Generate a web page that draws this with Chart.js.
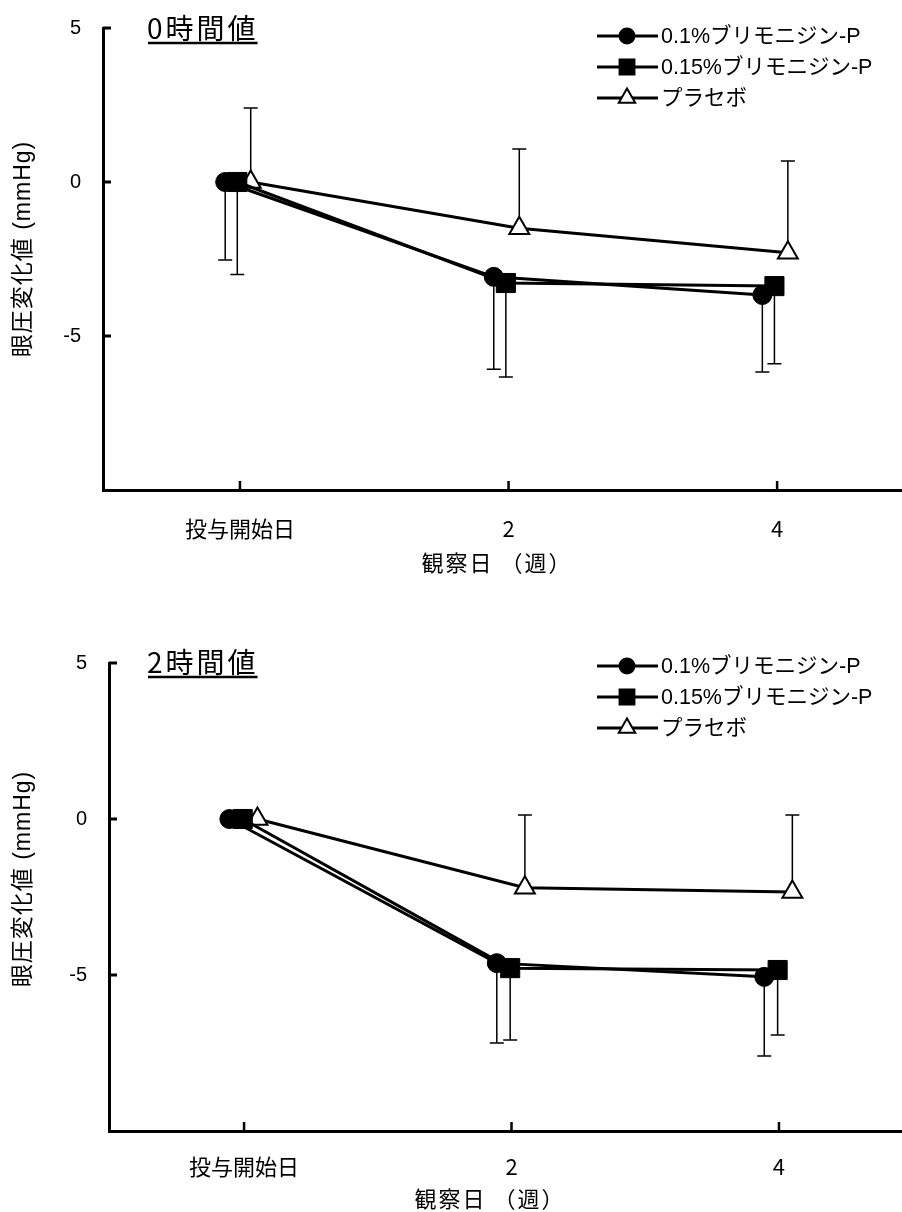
<!DOCTYPE html>
<html>
<head>
<meta charset="utf-8">
<script src="https://cdn.jsdelivr.net/npm/chart.js@4.4.1/dist/chart.umd.min.js"></script>
<style>
  html, body { margin: 0; background: #fff; overflow: hidden; }
  canvas { position: absolute; left: 0; }
</style>
</head>
<body>
<canvas id="chart0h" width="902" height="606" style="top:0"></canvas>
<canvas id="chart2h" width="902" height="606" style="top:606px"></canvas>
<script>
// weeks of observation and their axis labels
const weeks = [0, 2, 4];
const weekLabels = ['投与開始日', '2', '4'];
const yTicks = [-5, 0, 5];
const seriesNames = ['0.1%ブリモニジン-P', '0.15%ブリモニジン-P', 'プラセボ'];

// IOP change, 0 h after dosing (mean, SD)
const mean0h_01 = [0, -3.08, -3.67];
const sd0h_01 = [2.53, 3.0, 2.5];
const mean0h_015 = [0, -3.28, -3.38];
const sd0h_015 = [3.0, 3.05, 2.52];
const mean0h_pl = [0, -1.5, -2.3];
const sd0h_pl = [2.4, 2.57, 2.98];

// IOP change, 2 h after dosing (mean, SD)
const mean2h_01 = [0, -4.62, -5.06];
const sd2h_01 = [0, 2.56, 2.54];
const mean2h_015 = [0, -4.78, -4.84];
const sd2h_015 = [0, 2.3, 2.08];
const mean2h_pl = [0, -2.2, -2.34];
const sd2h_pl = [0, 2.33, 2.47];

// marker look per series; side = which way the SD bar points
const seriesStyle = [
  { pointStyle: 'circle', radius: 9.5, legendRadius: 7.5, fill: '#000', side: -1 },
  { pointStyle: 'rect', radius: 13.5, legendRadius: 10.5, fill: '#000', side: -1 },
  { pointStyle: 'triangle', radius: 11.5, legendRadius: 9.5, fill: '#fff', side: 1 }
];

const CJK = "'Noto Sans CJK JP'";
const LATIN_CJK = "'Liberation Sans', 'Noto Sans CJK JP'";

function marker(ctx, style, r, x, y) {
  ctx.beginPath();
  if (style === 'circle') {
    ctx.arc(x, y, r, 0, Math.PI * 2);
  } else if (style === 'rect') {
    const s = r * Math.SQRT1_2;
    ctx.rect(x - s, y - s, 2 * s, 2 * s);
  } else {
    ctx.moveTo(x, y - r);
    ctx.lineTo(x + r * 0.866, y + r * 0.5);
    ctx.lineTo(x - r * 0.866, y + r * 0.5);
    ctx.closePath();
  }
}

const decor = {
  id: 'decor',
  beforeDatasetsDraw(chart) {
    // one-sided SD bars
    const { ctx } = chart;
    const ys = chart.scales.y;
    ctx.save();
    ctx.strokeStyle = '#000';
    ctx.lineWidth = 1.5;
    chart.data.datasets.forEach((ds, i) => {
      chart.getDatasetMeta(i).data.forEach((pt, j) => {
        const sd = ds.sd[j];
        if (!sd) return;
        const yEnd = ys.getPixelForValue(ds.data[j].y + seriesStyle[i].side * sd);
        ctx.beginPath();
        ctx.moveTo(pt.x, pt.y);
        ctx.lineTo(pt.x, yEnd);
        ctx.moveTo(pt.x - 7, yEnd);
        ctx.lineTo(pt.x + 7, yEnd);
        ctx.stroke();
      });
    });
    ctx.restore();
  },
  afterDraw(chart, args, o) {
    const { ctx, chartArea } = chart;
    const xs = chart.scales.x, ys = chart.scales.y;
    ctx.save();
    ctx.strokeStyle = '#000';
    ctx.fillStyle = '#000';

    // inward tick marks
    ctx.lineWidth = 3;
    yTicks.forEach(v => {
      const py = ys.getPixelForValue(v);
      ctx.beginPath();
      ctx.moveTo(chartArea.left, py);
      ctx.lineTo(chartArea.left + 8, py);
      ctx.stroke();
    });
    ctx.lineWidth = 2.5;
    weeks.forEach(w => {
      const px = xs.getPixelForValue(w);
      ctx.beginPath();
      ctx.moveTo(px, chartArea.bottom);
      ctx.lineTo(px, chartArea.bottom - 9);
      ctx.stroke();
    });

    // legend
    seriesNames.forEach((name, i) => {
      const y = o.legendY[i];
      const st = seriesStyle[i];
      ctx.lineWidth = 3;
      ctx.beginPath();
      ctx.moveTo(597, y);
      ctx.lineTo(658, y);
      ctx.stroke();
      marker(ctx, st.pointStyle, st.legendRadius, 627, y);
      ctx.fillStyle = st.fill;
      ctx.fill();
      ctx.lineWidth = 2;
      ctx.stroke();
      ctx.fillStyle = '#000';
      ctx.font = '21.5px ' + LATIN_CJK;
      ctx.textAlign = 'left';
      ctx.textBaseline = 'middle';
      ctx.fillText(name, 661, y + 1);
    });

    // underlined panel title
    ctx.font = '28px ' + CJK;
    ctx.letterSpacing = '3px';
    ctx.textAlign = 'left';
    ctx.textBaseline = 'alphabetic';
    ctx.fillText(o.title, 147, o.titleY);
    const w = ctx.measureText(o.title).width - 2;
    ctx.lineWidth = 2.5;
    ctx.beginPath();
    ctx.moveTo(148, o.titleY + 4);
    ctx.lineTo(148 + w, o.titleY + 4);
    ctx.stroke();

    // axis titles
    ctx.letterSpacing = '1px';
    ctx.font = '23px ' + LATIN_CJK;
    ctx.textAlign = 'center';
    ctx.textBaseline = 'middle';
    ctx.save();
    ctx.translate(24, o.yTitleY);
    ctx.rotate(-Math.PI / 2);
    ctx.fillText('眼圧変化値 (mmHg)', 0, 0);
    ctx.restore();
    ctx.letterSpacing = '2px';
    ctx.font = '22px ' + CJK;
    ctx.fillText('観察日 （週）', o.xTitleX, o.xTitleY);
    ctx.restore();
  }
};

function makeChart(canvasId, p) {
  const datasets = seriesNames.map((name, i) => ({
    label: name,
    data: weeks.map((w, j) => ({ x: w + p.dodge[i], y: p.means[i][j] })),
    sd: p.sds[i],
    borderColor: '#000',
    borderWidth: 3,
    pointStyle: seriesStyle[i].pointStyle,
    pointRadius: seriesStyle[i].radius,
    pointBackgroundColor: seriesStyle[i].fill,
    pointBorderColor: '#000',
    pointBorderWidth: seriesStyle[i].fill === '#fff' ? 2 : 1,
    tension: 0,
    fill: false
  }));

  return new Chart(document.getElementById(canvasId), {
    type: 'line',
    data: { datasets },
    plugins: [decor],
    options: {
      responsive: false,
      animation: false,
      // no automatic room for marker overflow: the x axis runs to the page edge
      layout: { autoPadding: false, padding: { left: 0, right: 0, top: p.top, bottom: 0 } },
      plugins: {
        legend: { display: false },
        tooltip: { enabled: false },
        decor: p.decor
      },
      scales: {
        x: {
          type: 'linear',
          min: p.xMin,
          max: p.xMax,
          afterBuildTicks: s => { s.ticks = weeks.map(v => ({ value: v })); },
          afterFit: s => {
            s.height = 606 - p.bottom;
            s.paddingLeft = 0;
            s.paddingRight = 0;
          },
          grid: { display: false, drawTicks: false },
          border: { display: true, color: '#000', width: 3 },
          ticks: {
            padding: p.xPad,
            maxRotation: 0,
            autoSkip: false,
            color: '#000',
            font: { family: CJK, size: 22 },
            callback: v => weekLabels[weeks.indexOf(v)]
          }
        },
        y: {
          min: -10,
          max: 5,
          afterBuildTicks: s => { s.ticks = yTicks.map(v => ({ value: v })); },
          afterFit: s => {
            s.width = p.left;
            s.paddingTop = 0;
            s.paddingBottom = 0;
          },
          grid: { display: false, drawTicks: false },
          border: { display: true, color: '#000', width: 3 },
          ticks: {
            padding: 22,
            color: '#000',
            font: { family: "'Liberation Sans'", size: 20 }
          }
        }
      }
    }
  });
}

makeChart('chart0h', {
  means: [mean0h_01, mean0h_015, mean0h_pl],
  sds: [sd0h_01, sd0h_015, sd0h_pl],
  dodge: [-0.11, -0.02, 0.08],
  left: 103, top: 28, bottom: 490,
  xMin: -1.02, xMax: 4.93, xPad: 25,
  decor: { title: '0時間値', titleY: 39, legendY: [36, 67, 98], yTitleY: 249, xTitleX: 497, xTitleY: 563 }
});

makeChart('chart2h', {
  means: [mean2h_01, mean2h_015, mean2h_pl],
  sds: [sd2h_01, sd2h_015, sd2h_pl],
  dodge: [-0.11, -0.01, 0.1],
  left: 109, top: 57, bottom: 525,
  xMin: -1.01, xMax: 4.92, xPad: 22,
  decor: { title: '2時間値', titleY: 67, legendY: [60, 91, 122], yTitleY: 273, xTitleX: 490, xTitleY: 593 }
});
</script>
</body>
</html>
